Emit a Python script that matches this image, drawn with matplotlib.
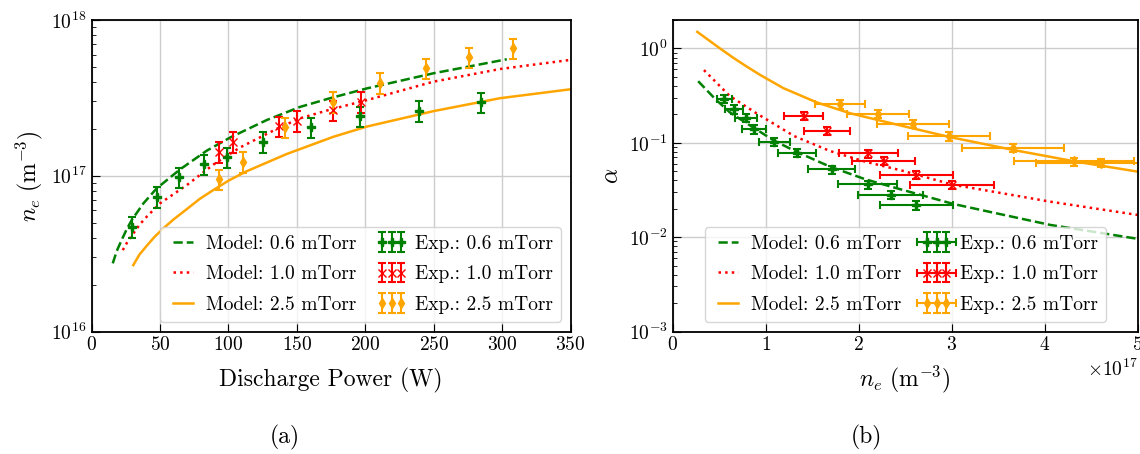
import numpy as np
import matplotlib
matplotlib.use('Agg')
import matplotlib.pyplot as plt

# Computer Modern look
plt.rcParams['font.family'] = 'serif'
plt.rcParams['font.serif'] = ['cmr10']
plt.rcParams['mathtext.fontset'] = 'cm'
plt.rcParams['axes.formatter.use_mathtext'] = True
plt.rcParams['axes.unicode_minus'] = False

# ---- (a) model curves: n_e vs discharge power ----
p_mod_06 = [15.5, 18.5, 22.0, 25.5, 29.4, 37.9, 47.6, 64.7, 84.2, 101.2, 128, 152.4, 174.3,
            201.1, 249.7, 303.4]
ne_mod_06 = [2.74e16, 3.3e16, 3.87e16, 4.5e16, 5.2e16, 6.65e16, 8.3e16, 1.1e17, 1.45e17,
             1.76e17, 2.28e17, 2.77e17, 3.15e17, 3.64e17, 4.55e17, 5.6e17]
p_mod_10 = [22.8, 26.5, 30.6, 35.5, 40.3, 50, 69.5, 89, 108.5, 137.7, 152.4, 174.3, 201.1,
            249.7, 298.5, 350]
ne_mod_10 = [3.33e16, 3.8e16, 4.27e16, 4.9e16, 5.46e16, 6.65e16, 8.7e16, 1.18e17, 1.52e17,
             2.05e17, 2.34e17, 2.66e17, 3.06e17, 4.02e17, 4.85e17, 5.55e17]
p_mod_25 = [30.5, 35.0, 40.3, 46.0, 52.5, 60.0, 69.5, 79.0, 89, 100, 113.4, 142.6, 176.7,
            201.1, 249.7, 298.5, 349.6]
ne_mod_25 = [2.67e16, 3.12e16, 3.55e16, 4.05e16, 4.6e16, 5.25e16, 6.1e16, 7.1e16, 8.1e16,
             9.3e16, 1.07e17, 1.38e17, 1.78e17, 2.07e17, 2.6e17, 3.15e17, 3.59e17]

# ---- (a) experiments ----
p_exp_06 = [29.4, 47.6, 63.9, 82.2, 98.8, 125, 160.3, 196.2, 239.3, 284.6]
ne_exp_06 = [4.71e16, 7.35e16, 9.8e16, 1.19e17, 1.32e17, 1.66e17, 2.05e17, 2.42e17, 2.62e17, 2.96e17]
p_exp_10 = [93.4, 103.2, 137.2, 150, 176.2, 196.9]
ne_exp_10 = [1.43e17, 1.66e17, 2.08e17, 2.25e17, 2.64e17, 2.99e17]
p_exp_25 = [93.4, 110.9, 141.4, 176.2, 210.8, 244.2, 276, 308.2]
ne_exp_25 = [9.53e16, 1.23e17, 2.05e17, 2.99e17, 3.96e17, 4.9e17, 5.76e17, 6.58e17]
ne_err = 0.15  # relative error on n_e

# ---- (b) model curves: alpha vs n_e (units of 1e17 m^-3) ----
nb_mod_06 = [0.275, 0.46, 0.616, 0.80, 1.094, 1.336, 1.69, 2.074, 2.458, 3.017, 3.447, 4.057, 5.0]
al_mod_06 = [0.45, 0.29, 0.21, 0.16, 0.105, 0.08, 0.056, 0.041, 0.032, 0.0225, 0.0182, 0.0135, 0.0096]
nb_mod_10 = [0.337, 0.614, 0.903, 1.306, 1.69, 2.074, 2.458, 3.017, 3.418, 4.057, 5.0]
al_mod_10 = [0.59, 0.314, 0.205, 0.118, 0.082, 0.063, 0.051, 0.0359, 0.0307, 0.0238, 0.0172]
nb_mod_25 = [0.265, 0.40, 0.51, 0.65, 0.80, 0.94, 1.19, 1.55, 1.906, 2.458, 2.982, 3.662, 4.344, 5.0]
al_mod_25 = [1.50, 1.20, 1.0, 0.80, 0.64, 0.525, 0.38, 0.268, 0.206, 0.152, 0.115, 0.084, 0.063, 0.0495]

# ---- (b) experiments ----
nb_exp_06 = [0.557, 0.66, 0.79, 0.876, 1.094, 1.336, 1.709, 2.097, 2.343, 2.619]
al_exp_06 = [0.294, 0.227, 0.185, 0.139, 0.102, 0.0785, 0.0522, 0.0362, 0.0283, 0.0218]
nb_exp_10 = [1.409, 1.659, 2.104, 2.270, 2.619, 3.003]
al_exp_10 = [0.192, 0.133, 0.0772, 0.064, 0.0454, 0.0356]
nb_exp_25 = [1.801, 2.21, 2.587, 2.971, 3.662, 4.315, 4.602]
al_exp_25 = [0.256, 0.204, 0.158, 0.117, 0.088, 0.0634, 0.061]
nb_err = 0.15
al_err = 0.10

fig = plt.figure(figsize=(11.4, 4.54), dpi=100)
ax1 = fig.add_axes([0.0803, 0.2698, 0.4202, 0.686])
ax2 = fig.add_axes([0.590, 0.2698, 0.408, 0.686])

eb = dict(capsize=3, elinewidth=1.5, capthick=1.5, ms=5.5, ls='none')
leg = dict(ncol=2, numpoints=3, fontsize=14, handlelength=1.6, handletextpad=0.4,
           columnspacing=1.0, labelspacing=0.65)

# (a)
m1, = ax1.plot(p_mod_06, ne_mod_06, '--', color='green', lw=1.8, label='Model: 0.6 mTorr')
m2, = ax1.plot(p_mod_10, ne_mod_10, ':', color='red', lw=1.8, label='Model: 1.0 mTorr')
m3, = ax1.plot(p_mod_25, ne_mod_25, '-', color='orange', lw=1.8, label='Model: 2.5 mTorr')
e1 = ax1.errorbar(p_exp_06, ne_exp_06, yerr=ne_err * np.array(ne_exp_06), marker='P',
                  color='green', label='Exp.: 0.6 mTorr', **eb)
e2 = ax1.errorbar(p_exp_10, ne_exp_10, yerr=ne_err * np.array(ne_exp_10), marker='x',
                  color='red', label='Exp.: 1.0 mTorr', **eb)
e3 = ax1.errorbar(p_exp_25, ne_exp_25, yerr=ne_err * np.array(ne_exp_25), marker='d',
                  color='orange', label='Exp.: 2.5 mTorr', **eb)
ax1.set_yscale('log')
ax1.set_xlim(0, 350)
ax1.set_ylim(1e16, 1e18)
ax1.set_xticks(np.arange(0, 351, 50))
ax1.set_xlabel('Discharge Power (W)', fontsize=17, labelpad=10)
ax1.set_ylabel(r'$n_e\ (\mathrm{m}^{-3})$', fontsize=17)
ax1.legend(handles=[m1, m2, m3, e1, e2, e3], loc='lower right', **leg)

# (b)
scale = 1e17
n2 = lambda v: np.array(v) * scale
k1, = ax2.plot(n2(nb_mod_06), al_mod_06, '--', color='green', lw=1.8, label='Model: 0.6 mTorr')
k2, = ax2.plot(n2(nb_mod_10), al_mod_10, ':', color='red', lw=1.8, label='Model: 1.0 mTorr')
k3, = ax2.plot(n2(nb_mod_25), al_mod_25, '-', color='orange', lw=1.8, label='Model: 2.5 mTorr')
f1 = ax2.errorbar(n2(nb_exp_06), al_exp_06, xerr=nb_err * n2(nb_exp_06),
                  yerr=al_err * np.array(al_exp_06), marker='P', color='green',
                  label='Exp.: 0.6 mTorr', **eb)
f2 = ax2.errorbar(n2(nb_exp_10), al_exp_10, xerr=nb_err * n2(nb_exp_10),
                  yerr=al_err * np.array(al_exp_10), marker='x', color='red',
                  label='Exp.: 1.0 mTorr', **eb)
f3 = ax2.errorbar(n2(nb_exp_25), al_exp_25, xerr=nb_err * n2(nb_exp_25),
                  yerr=al_err * np.array(al_exp_25), marker='d', color='orange',
                  label='Exp.: 2.5 mTorr', **eb)
ax2.set_yscale('log')
ax2.set_xlim(0, 5e17)
ax2.set_ylim(1e-3, 2)
ax2.set_xlabel(r'$n_e\ (\mathrm{m}^{-3})$', fontsize=17, labelpad=7)
ax2.set_ylabel(r'$\alpha$', fontsize=17)
ax2.legend(handles=[k1, k2, k3, f1, f2, f3], loc='lower center', **leg)
ax2.xaxis.get_offset_text().set_fontsize(14)

for ax in (ax1, ax2):
    ax.grid(True, which='major', color='#cccccc', lw=1.0)
    ax.set_axisbelow(True)
    ax.tick_params(which='both', direction='in', labelsize=14)
    ax.tick_params(which='major', length=6)
    ax.tick_params(which='minor', length=3)
    for s in ax.spines.values():
        s.set_linewidth(1.3)

fig.text(285 / 1140, 1 - 437 / 454, '(a)', ha='center', va='center', fontsize=17)
fig.text(866 / 1140, 1 - 437 / 454, '(b)', ha='center', va='center', fontsize=17)

fig.savefig('out.png', dpi=100)
